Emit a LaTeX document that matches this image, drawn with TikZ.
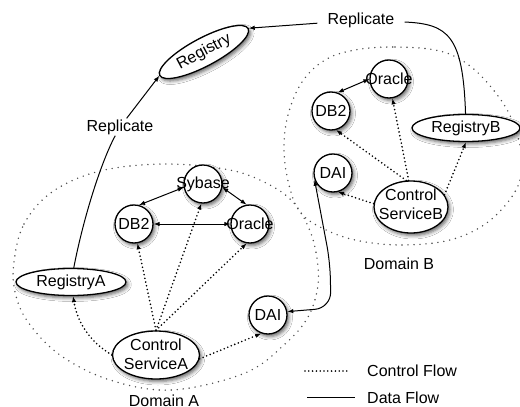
\documentclass[tikz,border=0pt]{standalone}
\usepackage{fontspec}
\setmainfont{Liberation Sans}
\usetikzlibrary{shapes.geometric,arrows.meta,shadows.blur}
\newcommand{\twolines}[1]{\smash{\makebox[0pt]{\begin{tabular}{@{}c@{}}#1\end{tabular}}}}
\newcommand{\zw}[1]{\makebox[0pt]{#1}}
\begin{document}
\begin{tikzpicture}[x=1pt,y=-1pt,
  >={Latex[length=6pt,width=4.5pt]},
  every node/.style={font=\fontsize{16}{19}\selectfont, text=black},
  shd/.style={blur shadow={shadow xshift=2pt,shadow yshift=-2.5pt,shadow blur radius=3.5pt,shadow opacity=60}},
  circ/.style={circle,draw=black,line width=1.3pt,fill=white,minimum size=38pt,inner sep=0pt,shd},
  ell/.style={ellipse,draw=black,line width=1.3pt,fill=white,inner sep=0pt,shd},
  lbl/.style={inner xsep=10pt,inner ysep=1pt},
  plain/.style={inner sep=0pt},
  dflow/.style={draw=black,line width=1pt},
  cflow/.style={draw=black,line width=1.8pt,line cap=round,dash pattern=on 0pt off 3.8pt},
  dom/.style={draw=black!70,line width=1.6pt,line cap=round,dash pattern=on 0pt off 6pt}
]
\useasboundingbox (0,0) rectangle (520,407);
\fill[white] (0,0) rectangle (520,407);

% domains
\draw[dom] plot[smooth cycle,tension=0.6] coordinates {
  (14,262) (24,224) (52,192) (100,171) (165,164) (230,170) (268,184) (292,201)
  (307,224) (316,252) (318,285) (308,317) (285,344) (245,373) (172,390)
  (110,380) (60,355) (28,322) (15,292)};
\draw[dom] plot[smooth cycle,tension=0.6] coordinates {
  (355,50) (395,47) (440,51) (470,66) (495,92) (512,120) (522,158) (516,190)
  (488,222) (450,240) (400,245) (355,240) (322,228) (300,212) (289,185)
  (284,150) (288,115) (302,82) (325,60)};

% nodes
\node[ell,minimum width=100pt,minimum height=28pt,rotate=28] (reg) at (204,52) {Registry};
\node[ell,minimum width=110pt,minimum height=27pt] (regA) at (71,282) {RegistryA};
\node[ell,minimum width=108pt,minimum height=27pt] (regB) at (466,128) {RegistryB};
\node[ell,minimum width=87pt,minimum height=48pt] (serA) at (156,355) {\raisebox{-11pt}{\twolines{Control\\ServiceA}}};
\node[ell,minimum width=74pt,minimum height=52pt] (serB) at (411,207) {\raisebox{-8pt}{\twolines{Control\\ServiceB}}};
\node[circ] (syb) at (203,184) {\zw{Sybase}};
\node[circ] (db2A) at (134,224) {\zw{DB2}};
\node[circ] (oraA) at (250,224) {\zw{Oracle}};
\node[circ] (daiA) at (268,315) {\zw{DAI}};
\node[circ] (daiB) at (333,173) {\zw{DAI}};
\node[circ] (db2B) at (331,111) {\zw{DB2}};
\node[circ] (oraB) at (389,79) {\zw{Oracle}};

% labels
\node[lbl] (rep1) at (120,127) {Replicate};
\node[lbl] (rep2) at (361,20) {Replicate};
\node[plain] (domA) at (164,401) {Domain A};
\node[plain] (domB) at (399,263.5) {Domain B};
\node[plain,anchor=west] (lgC) at (367,371) {Control Flow};
\node[plain,anchor=west] (lgD) at (367,398) {Data Flow};
\coordinate (lc1) at (305,371);
\coordinate (lc2) at (350,371);
\coordinate (ld1) at (307,397);
\coordinate (ld2) at (355,397);
\draw[cflow] (lc1) -- (lc2);
\draw[dflow] (ld1) -- (ld2);

% data flow
\draw[dflow,->] (regA) .. controls (84,215) and (102,160) .. (rep1) -- (reg.west);
\draw[dflow,->] (regB) .. controls (463,35) and (448,24) .. (rep2) -- (reg.east);
\coordinate (k1) at (330,262);
\coordinate (k2) at (331,308);
\draw[dflow,<->,rounded corners=16pt] (daiB.200) -- (k1) -- (k2) -- (daiA.10);
\draw[dflow,<->] (db2A.75) -- (syb.190);
\draw[dflow,<->] (syb.350) -- (oraA.100);
\draw[dflow,<->] (db2A.east) -- (oraA.west);
\draw[dflow,<->] (db2B.70) -- (oraB.180);

% control flow
\draw[cflow,->] (serA.west) .. controls (90,342) and (77,322) .. (regA);
\draw[cflow,->] (serA.north) -- (db2A.280);
\draw[cflow,->] (serA.north) -- (syb.265);
\draw[cflow,->] (serA.north) -- (oraA.260);
\draw[cflow,->] (serA.355) -- (daiA.250);
\draw[cflow,->] (serB.175) -- (daiB.285);
\draw[cflow,->] (serB.100) -- (db2B.285);
\draw[cflow,->] (serB.95) -- (oraB.280);
\draw[cflow,->] (serB.20) -- (regB.south);
\end{tikzpicture}
\end{document}
